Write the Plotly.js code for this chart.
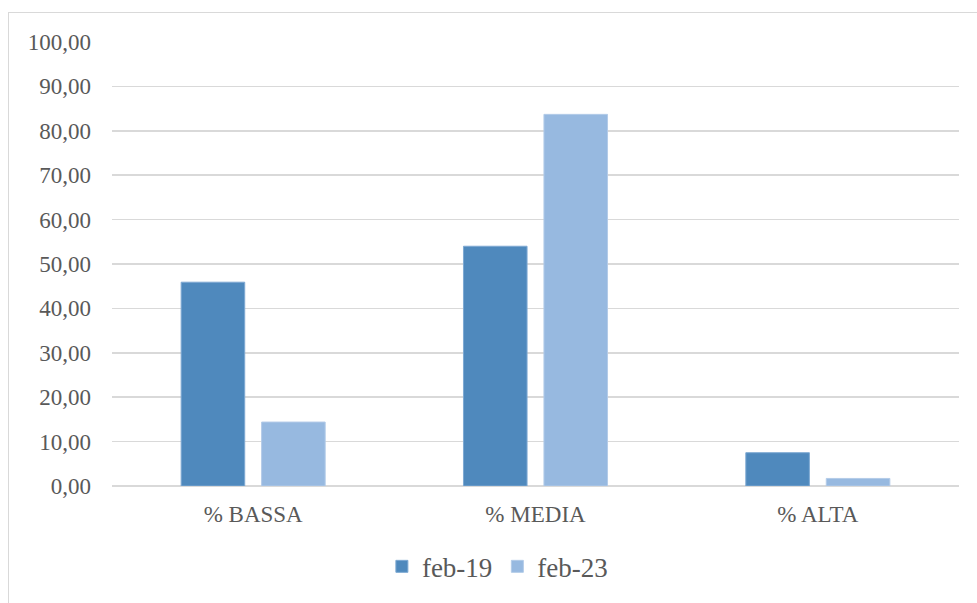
<!DOCTYPE html>
<html>
<head>
<meta charset="utf-8">
<script src="https://cdn.plot.ly/plotly-3.0.1.min.js"></script>
<style>
  html, body { margin: 0; padding: 0; background: #ffffff; }
  #wrap { position: relative; width: 977px; height: 603px; }
  #chart { width: 977px; height: 603px; }
  #frame {
    position: absolute; left: 8px; top: 12px; right: 0; bottom: 0;
    border-top: 1px solid #d9d9d9; border-left: 1px solid #d9d9d9;
    pointer-events: none;
  }
</style>
</head>
<body>
<div id="wrap">
  <div id="chart"></div>
  <div id="frame"></div>
</div>
<script>
// Share of each level, February 2019 vs February 2023
const categories = ['% BASSA', '% MEDIA', '% ALTA'];
const feb19 = [45.9, 54.0, 7.5];
const feb23 = [14.4, 83.7, 1.7];
const seriesNames = ['feb-19', 'feb-23'];
const yTicks = [0, 10, 20, 30, 40, 50, 60, 70, 80, 90, 100];

const serif = '"Liberation Serif", "Times New Roman", serif';
const textGrey = '#595959';
const gridGrey = '#d9d9d9';

const traces = [
  {
    type: 'bar', name: seriesNames[0], x: categories, y: feb19,
    marker: { color: '#4f89bd', line: { color: '#7ea9d3', width: 1 } },
    hoverinfo: 'skip'
  },
  {
    type: 'bar', name: seriesNames[1], x: categories, y: feb23,
    marker: { color: '#97b9e0', line: { color: '#b3cbe8', width: 1 } },
    hoverinfo: 'skip'
  }
];

const layout = {
  width: 977, height: 603,
  margin: { l: 112, r: 18, t: 42, b: 117 },
  paper_bgcolor: '#ffffff', plot_bgcolor: '#ffffff',
  barmode: 'group', bargap: 0.43, bargroupgap: 0.21,
  separators: ',.',
  font: { family: serif, color: textGrey, size: 23 },
  xaxis: {
    type: 'category', showgrid: false, showline: false, zeroline: false,
    ticks: '', ticklabelstandoff: 12,
    tickfont: { family: serif, size: 23, color: textGrey }
  },
  yaxis: {
    range: [0, 100], tickvals: yTicks, tickformat: '.2f',
    showgrid: true, gridcolor: gridGrey, gridwidth: 1.5,
    zeroline: true, zerolinecolor: gridGrey, zerolinewidth: 2,
    showline: false, ticks: '', ticklabelstandoff: 20,
    tickfont: { family: serif, size: 23, color: textGrey }
  },
  showlegend: true,
  legend: {
    orientation: 'h', x: 0.455, xanchor: 'center', y: -0.182, yanchor: 'middle',
    font: { family: serif, size: 27, color: textGrey },
    itemwidth: 30, traceorder: 'normal'
  }
};

Plotly.newPlot('chart', traces, layout, { displayModeBar: false, staticPlot: true });
</script>
</body>
</html>
